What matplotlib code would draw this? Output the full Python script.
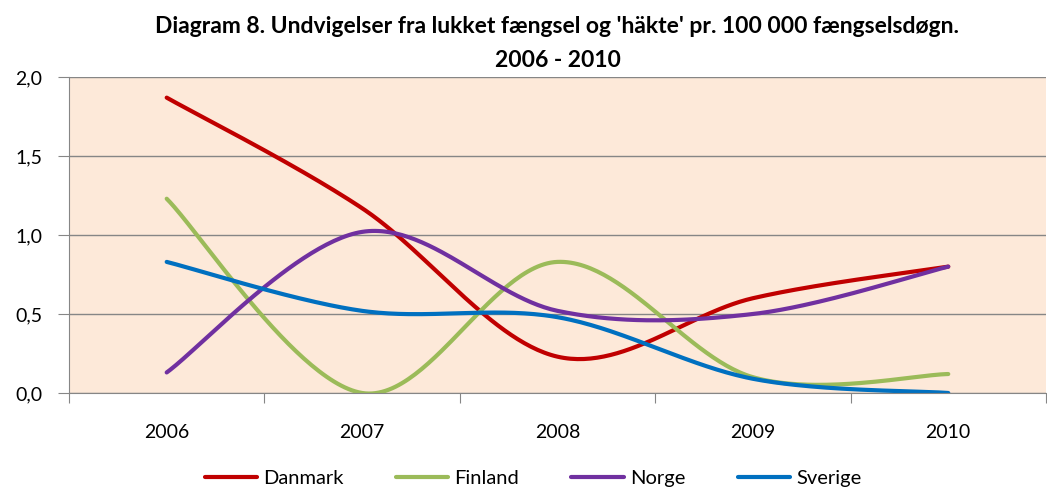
import numpy as np
import matplotlib.pyplot as plt
from matplotlib.ticker import FuncFormatter

years = ['2006', '2007', '2008', '2009', '2010']
danmark = [1.87, 1.17, 0.23, 0.60, 0.80]
finland = [1.23, 0.00, 0.83, 0.10, 0.12]
norge = [0.13, 1.02, 0.52, 0.50, 0.80]
sverige = [0.83, 0.52, 0.48, 0.09, 0.00]

series = [('Danmark', danmark, '#C00000'),
          ('Finland', finland, '#9BBB59'),
          ('Norge', norge, '#7030A0'),
          ('Sverige', sverige, '#0070C0')]

plt.rcParams['font.family'] = ['Lato', 'DejaVu Sans']


def smooth(xs, ys, n=60):
    # Excel-like smoothed line: Catmull-Rom through the data points, drawn as Bezier
    p = np.column_stack([xs, ys]).astype(float)
    ext = np.vstack([p[0], p, p[-1]])
    out = []
    for i in range(len(p) - 1):
        p0, p1, p2, p3 = ext[i], ext[i + 1], ext[i + 2], ext[i + 3]
        c1 = p1 + (p2 - p0) / 6
        c2 = p2 - (p3 - p1) / 6
        t = np.linspace(0, 1, n)[:, None]
        seg = ((1 - t) ** 3) * p1 + 3 * ((1 - t) ** 2) * t * c1 + 3 * (1 - t) * t ** 2 * c2 + t ** 3 * p2
        out.append(seg if i == 0 else seg[1:])
    out = np.vstack(out)
    return out[:, 0], out[:, 1]


fig = plt.figure(figsize=(10.47, 4.88), dpi=100)
ax = fig.add_axes([0.0659, 0.1947, 0.9331, 0.6473])
ax.set_facecolor('#FDE9D9')

x = np.arange(len(years))
for name, vals, col in series:
    sx, sy = smooth(x, vals)
    ax.plot(sx, sy, color=col, lw=3, label=name, solid_capstyle='round')

ax.set_xlim(-0.5, 4.5)
ax.set_ylim(0, 2.0)
ax.set_yticks([0, 0.5, 1.0, 1.5, 2.0])
ax.yaxis.set_major_formatter(FuncFormatter(lambda v, p: f'{v:.1f}'.replace('.', ',')))
ax.grid(axis='y', color='#868686', lw=1)
ax.set_axisbelow(True)

ax.set_xticks(np.arange(-0.5, 5.0, 1.0))
ax.set_xticklabels([])
ax.set_xticks(x, minor=True)
ax.set_xticklabels(years, minor=True, fontsize=14)
ax.tick_params(axis='x', which='minor', length=0, pad=22)
ax.tick_params(axis='x', which='major', length=7, color='#868686')
ax.tick_params(axis='y', length=8, color='#868686', labelsize=14, pad=11)

for s in ['top', 'right']:
    ax.spines[s].set_visible(False)
ax.spines['left'].set_color('#868686')
ax.spines['bottom'].set_color('#868686')

cx = 0.0659 + 0.9331 / 2
fig.text(cx, 0.945, "Diagram 8. Undvigelser fra lukket fængsel og 'häkte' pr. 100 000 fængselsdøgn.",
         ha='center', va='center', fontsize=16.5, fontweight='bold')
fig.text(cx, 0.877, '2006 - 2010', ha='center', va='center', fontsize=16.5, fontweight='bold')

fig.legend(loc='center', bbox_to_anchor=(0.509, 0.02), ncol=4, frameon=False,
           fontsize=14.5, handlelength=2.6, handletextpad=0.3, columnspacing=2.6)

fig.savefig('out.png', dpi=100)
